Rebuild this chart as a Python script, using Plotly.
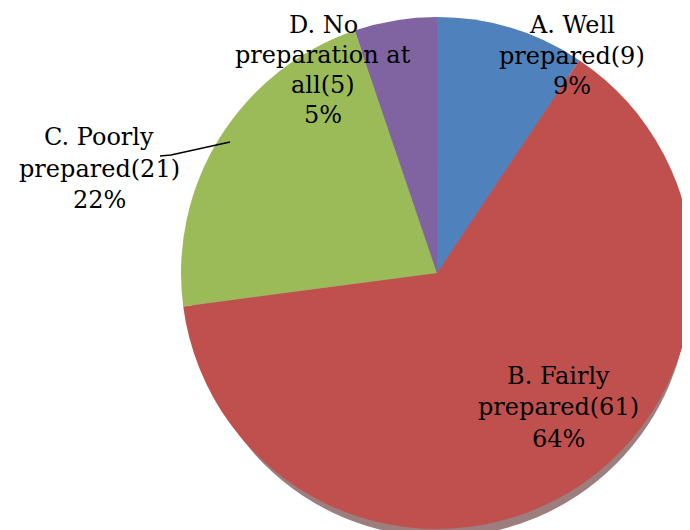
import plotly.graph_objects as go

categories = ["A. Well\nprepared", "B. Fairly\nprepared", "C. Poorly\nprepared", "D. No\npreparation at\nall"]
counts = [9, 61, 21, 5]
colors = ["#4F81BD", "#C0504D", "#9BBB59", "#8064A2"]

total = sum(counts)
percents = [round(100 * c / total) for c in counts]

# label anchor positions (pixel centre x, first line y, line spacing)
label_pos = [(564, 17, 30.5), (550, 368, 31.3), (91, 129, 31.5), (315, 17, 30.0)]

W, H = 690, 530

fig = go.Figure()
fig.add_trace(go.Pie(
    labels=[c.replace("\n", " ") for c in categories],
    values=counts,
    sort=False,
    direction="clockwise",
    rotation=0,
    textinfo="none",
    hoverinfo="label+value+percent",
    marker=dict(colors=colors, line=dict(width=0)),
    domain=dict(x=[0.2507, 0.9928], y=[0.0170, 0.9830]),
    showlegend=False,
))

annotations = []
for cat, n, p, (cx, y0, gap) in zip(categories, counts, percents, label_pos):
    lines = cat.split("\n")
    lines[-1] = f"{lines[-1]}({n})"
    lines.append(f"{p}%")
    for i, ln in enumerate(lines):
        y = y0 + i * gap
        annotations.append(dict(
            x=cx / W, y=1 - y / H, xref="paper", yref="paper",
            text=ln, showarrow=False, xanchor="center", yanchor="middle",
            font=dict(family="DejaVu Serif", size=24, color="#000000"),
        ))

shapes = [
    dict(type="circle", xref="paper", yref="paper", layer="below",
         x0=(432 - 249) / W, x1=(432 + 249) / W,
         y0=1 - (280 + 249) / H, y1=1 - (280 - 249) / H,
         fillcolor="rgba(90,40,40,0.6)", line=dict(width=0)),
    dict(type="path", xref="paper", yref="paper",
         path=f"M {152/W},{1-148/H} L {163/W},{1-147/H} L {222/W},{1-134/H}",
         line=dict(color="#000000", width=1.5)),
]

fig.update_layout(
    width=W, height=H,
    margin=dict(l=0, r=0, t=0, b=0),
    paper_bgcolor="white",
    plot_bgcolor="white",
    annotations=annotations,
    shapes=shapes,
)

fig.write_html("out.html")
